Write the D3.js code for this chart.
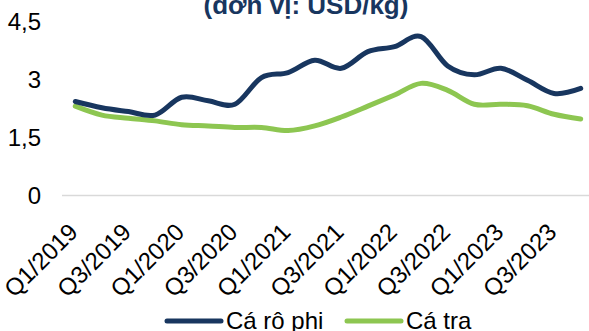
<!DOCTYPE html>
<html><head><meta charset="utf-8">
<script src="https://cdn.jsdelivr.net/npm/d3@7"></script>
<style>
html,body{margin:0;padding:0;background:#fff;}
svg{display:block;font-family:"Liberation Sans",Arial,sans-serif;}
</style></head>
<body><svg id="c" width="589" height="331"></svg>
<script>
const categories = ["Q1/2019","Q2/2019","Q3/2019","Q4/2019","Q1/2020","Q2/2020","Q3/2020","Q4/2020",
  "Q1/2021","Q2/2021","Q3/2021","Q4/2021","Q1/2022","Q2/2022","Q3/2022","Q4/2022",
  "Q1/2023","Q2/2023","Q3/2023","Q4/2023"];
const caRoPhi = [2.43,2.27,2.17,2.08,2.54,2.45,2.36,3.05,3.18,3.50,3.29,3.72,3.85,4.11,3.35,3.12,3.29,2.98,2.64,2.77];
const caTra   = [2.31,2.08,2.00,1.93,1.83,1.80,1.76,1.76,1.68,1.80,2.03,2.31,2.60,2.90,2.72,2.36,2.36,2.32,2.10,1.98];
const yTicks = [0,1.5,3,4.5];
const seriesNames = ["Cá rô phi","Cá tra"];
const colors = ["#18365F","#8DC651"];
const title = "(đơn vị: USD/kg)";

const svg = d3.select("#c");
const x = d3.scaleBand().domain(categories).range([62,594]);
const y = d3.scaleLinear().domain([0,4.5]).range([195.5,21.5]);
const cx = d => x(d) + x.bandwidth()/2;
const FS = 24;

// title
svg.append("text").attr("x",306).attr("y",13.5).attr("text-anchor","middle")
  .attr("font-size",26).attr("font-weight","bold").attr("fill","#18365F").text(title);

// baseline
svg.append("line").attr("x1",62).attr("x2",589).attr("y1",y(0)).attr("y2",y(0))
  .attr("stroke","#D9D9D9").attr("stroke-width",1.5);

// y axis labels
const fmt = v => String(v).replace(".",",");
const yAxis = d3.axisLeft(y).tickValues(yTicks).tickFormat(fmt).tickSize(0).tickPadding(0);
const ya = svg.append("g").attr("transform","translate(41,0)").call(yAxis);
ya.select(".domain").remove();
ya.selectAll("text").attr("font-size",FS).attr("fill","#000").attr("font-family","Liberation Sans, Arial, sans-serif");

// x axis labels
const xa = svg.append("g").attr("transform",`translate(0,${y(0)})`)
  .call(d3.axisBottom(x).tickValues(categories.filter((d,i)=>i%2===0)).tickSize(0));
xa.select(".domain").remove();
xa.selectAll("text").attr("font-size",FS).attr("fill","#000").attr("font-family","Liberation Sans, Arial, sans-serif")
  .attr("text-anchor","end").attr("dy","0.35em")
  .attr("transform","translate(-2,32) rotate(-45)").attr("y",0).attr("x",0);

// lines
const line = d3.line().x((d,i)=>cx(categories[i])).y(d=>y(d)).curve(d3.curveCatmullRom.alpha(0));
const paths = [caRoPhi, caTra].map((s,k)=>
  svg.append("path").datum(s).attr("d",line).attr("fill","none")
    .attr("stroke",colors[k]).attr("stroke-width",5).attr("stroke-linecap","round").attr("stroke-linejoin","round"));
paths[0].raise();

// legend
const leg = [{x1:167,x2:221,tx:226},{x1:347,x2:401,tx:406}];
seriesNames.forEach((n,k)=>{
  svg.append("line").attr("x1",leg[k].x1).attr("x2",leg[k].x2).attr("y1",321).attr("y2",321)
    .attr("stroke",colors[k]).attr("stroke-width",5).attr("stroke-linecap","round");
  svg.append("text").attr("x",leg[k].tx).attr("y",329).attr("font-size",FS).attr("fill","#000").text(n);
});
</script></body></html>
